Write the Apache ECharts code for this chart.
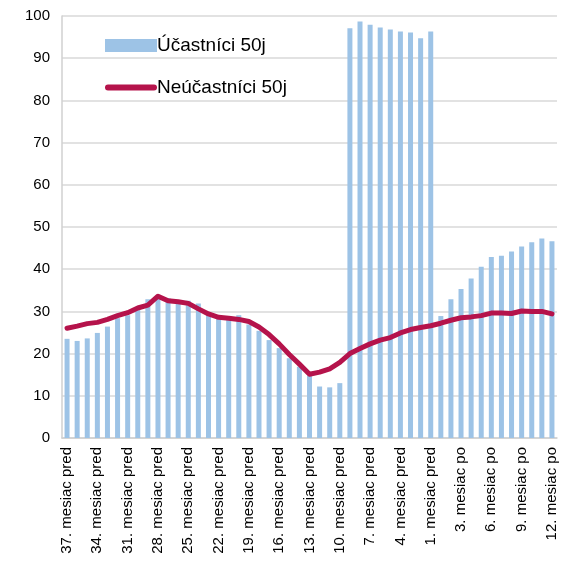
<!DOCTYPE html>
<html>
<head>
<meta charset="utf-8">
<script src="https://cdn.jsdelivr.net/npm/echarts@6/dist/echarts.min.js"></script>
<style>
  html, body { margin: 0; padding: 0; background: #fff; }
  #chart { width: 565px; height: 562px; }
</style>
</head>
<body>
<div id="chart"></div>
<script>
const months = [
    '37. mesiac pred', '36. mesiac pred', '35. mesiac pred', '34. mesiac pred', '33. mesiac pred',
    '32. mesiac pred', '31. mesiac pred', '30. mesiac pred', '29. mesiac pred', '28. mesiac pred',
    '27. mesiac pred', '26. mesiac pred', '25. mesiac pred', '24. mesiac pred', '23. mesiac pred',
    '22. mesiac pred', '21. mesiac pred', '20. mesiac pred', '19. mesiac pred', '18. mesiac pred',
    '17. mesiac pred', '16. mesiac pred', '15. mesiac pred', '14. mesiac pred', '13. mesiac pred',
    '12. mesiac pred', '11. mesiac pred', '10. mesiac pred', '9. mesiac pred', '8. mesiac pred',
    '7. mesiac pred', '6. mesiac pred', '5. mesiac pred', '4. mesiac pred', '3. mesiac pred',
    '2. mesiac pred', '1. mesiac pred',
    '1. mesiac po', '2. mesiac po', '3. mesiac po', '4. mesiac po', '5. mesiac po', '6. mesiac po',
    '7. mesiac po', '8. mesiac po', '9. mesiac po', '10. mesiac po', '11. mesiac po', '12. mesiac po'
];

const ucastnici = [
    23.5, 23.0, 23.6, 24.9, 26.4, 28.4, 29.1, 30.3, 32.9, 33.5,
    33.2, 32.4, 32.5, 31.9, 29.2, 28.6, 28.9, 29.1, 26.9, 25.4,
    23.2, 21.3, 18.9, 16.9, 14.7, 12.2, 12.0, 13.0, 97.1, 98.7,
    97.9, 97.3, 96.8, 96.3, 96.1, 94.7, 96.3,
    28.9, 32.9, 35.3, 37.8, 40.6, 42.9, 43.2, 44.2, 45.4, 46.4, 47.3, 46.6
];

const neucastnici = [
    26.0, 26.5, 27.1, 27.4, 28.1, 29.0, 29.7, 30.8, 31.5, 33.6,
    32.5, 32.3, 31.9, 30.6, 29.4, 28.6, 28.4, 28.1, 27.6, 26.3,
    24.5, 22.3, 19.8, 17.5, 15.1, 15.6, 16.4, 17.9, 20.0, 21.2,
    22.3, 23.2, 23.8, 24.9, 25.7, 26.2, 26.6,
    27.2, 27.9, 28.5, 28.7, 29.0, 29.6, 29.6, 29.5, 30.1, 30.0, 30.0, 29.4
];

const chartInstance = echarts.init(document.getElementById('chart'));

const font = 'Liberation Sans, Arial, sans-serif';

const option = {
    animation: false,
    textStyle: { fontFamily: font },
    legend: {
        orient: 'vertical',
        left: 100,
        top: 31,
        itemWidth: 52,
        itemHeight: 13,
        itemGap: 23,
        textStyle: { fontSize: 19, color: '#000', fontFamily: font, padding: [0, 0, 0, -5] },
        data: [
            { name: 'Účastníci 50j', icon: 'rect' },
            { name: 'Neúčastníci 50j', icon: 'path://M3,0 L49,0 A3,3 0 0 1 49,6 L3,6 A3,3 0 0 1 3,0 Z' }
        ]
    },
    grid: {
        left: 62,
        right: 8,
        top: 16,
        bottom: 124
    },
    xAxis: {
        type: 'category',
        data: months,
        boundaryGap: true,
        axisLine: { lineStyle: { color: '#d0d0d0', width: 1.5 } },
        axisTick: { interval: 0, length: 5, lineStyle: { color: '#d0d0d0', width: 1.5 } },
        axisLabel: {
            interval: 2,
            rotate: 90,
            fontSize: 15,
            color: '#000',
            margin: 9,
            fontFamily: font
        }
    },
    yAxis: {
        type: 'value',
        min: 0,
        max: 100,
        interval: 10,
        axisLine: { show: true, lineStyle: { color: '#d0d0d0', width: 1.5 } },
        axisTick: { show: false },
        splitLine: { lineStyle: { color: '#d9d9d9', width: 1.5 } },
        axisLabel: { fontSize: 15, color: '#000', margin: 12, fontFamily: font }
    },
    series: [
        {
            name: 'Účastníci 50j',
            type: 'bar',
            data: ucastnici,
            barWidth: 5,
            itemStyle: { color: '#9dc3e6' }
        },
        {
            name: 'Neúčastníci 50j',
            type: 'line',
            data: neucastnici,
            symbol: 'none',
            lineStyle: { color: '#b5134b', width: 5, cap: 'round', join: 'round' },
            itemStyle: { color: '#b5134b' }
        }
    ]
};

chartInstance.setOption(option);
</script>
</body>
</html>
